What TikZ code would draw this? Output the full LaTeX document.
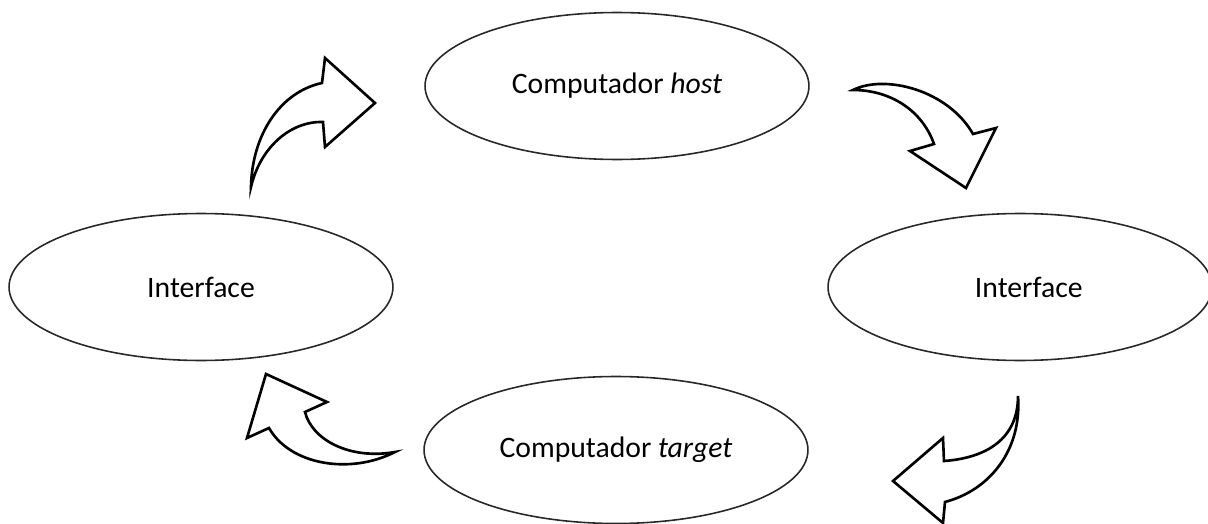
\documentclass[tikz,border=0pt]{standalone}
\usepackage{fontspec}
\setmainfont{Carlito}
\usepackage{xcolor}
\usepackage{tikz}
\usetikzlibrary{shapes.geometric}
\definecolor{outlinegray}{RGB}{40,40,40}
\definecolor{arrowblack}{RGB}{0,0,0}

\tikzset{
  stage/.style={ellipse, draw=outlinegray, line width=0.9pt, fill=white,
    minimum width=7.68cm, minimum height=2.94cm, inner sep=0pt,
    font=\fontsize{16.9}{20}\selectfont},
  bendarrow/.style={draw=arrowblack, line width=1.5pt, fill=white, line join=miter}
}

\begin{document}
\begin{tikzpicture}[x=0.02cm, y=-0.02cm]
  \useasboundingbox (0,0) rectangle (1208,524);

  % Stages
  \node[stage] (host) at (617,86) {Computador \textit{host}};
  \node[stage] (ifright) at (1020,287) {\hspace{10pt}Interface};
  \node[stage] (target) at (616,450) {Computador \textit{target}};
  \node[stage] (ifleft) at (201,287) {Interface};

  % Curved arrow, left interface to host
  \draw[bendarrow] (251,187) .. controls (252,135) and (280,92) .. (322,83)
    -- (325,58) -- (375,103) -- (325,147) -- (323,122)
    .. controls (290,121) and (260,148) .. cycle;

  % Curved arrow, host to right interface
  \draw[bendarrow] (853,90) .. controls (885,74) and (948,90) .. (973,134)
    -- (996,128) -- (966,188) -- (910,151) -- (934,144)
    .. controls (922,110) and (890,90) .. cycle;

  % Curved arrow, right interface to target
  \draw[bendarrow] (1018,396) .. controls (1018,440) and (985,458) .. (944,461)
    -- (943,438) -- (893,481) -- (943,523) -- (945,502)
    .. controls (990,490) and (1022,450) .. cycle;

  % Curved arrow, target to left interface
  \draw[bendarrow] (395,452) .. controls (350,460) and (312,440) .. (305,412)
    -- (327,402) -- (266,374) -- (247,438) -- (269,428)
    .. controls (290,465) and (350,475) .. cycle;

\end{tikzpicture}
\end{document}
